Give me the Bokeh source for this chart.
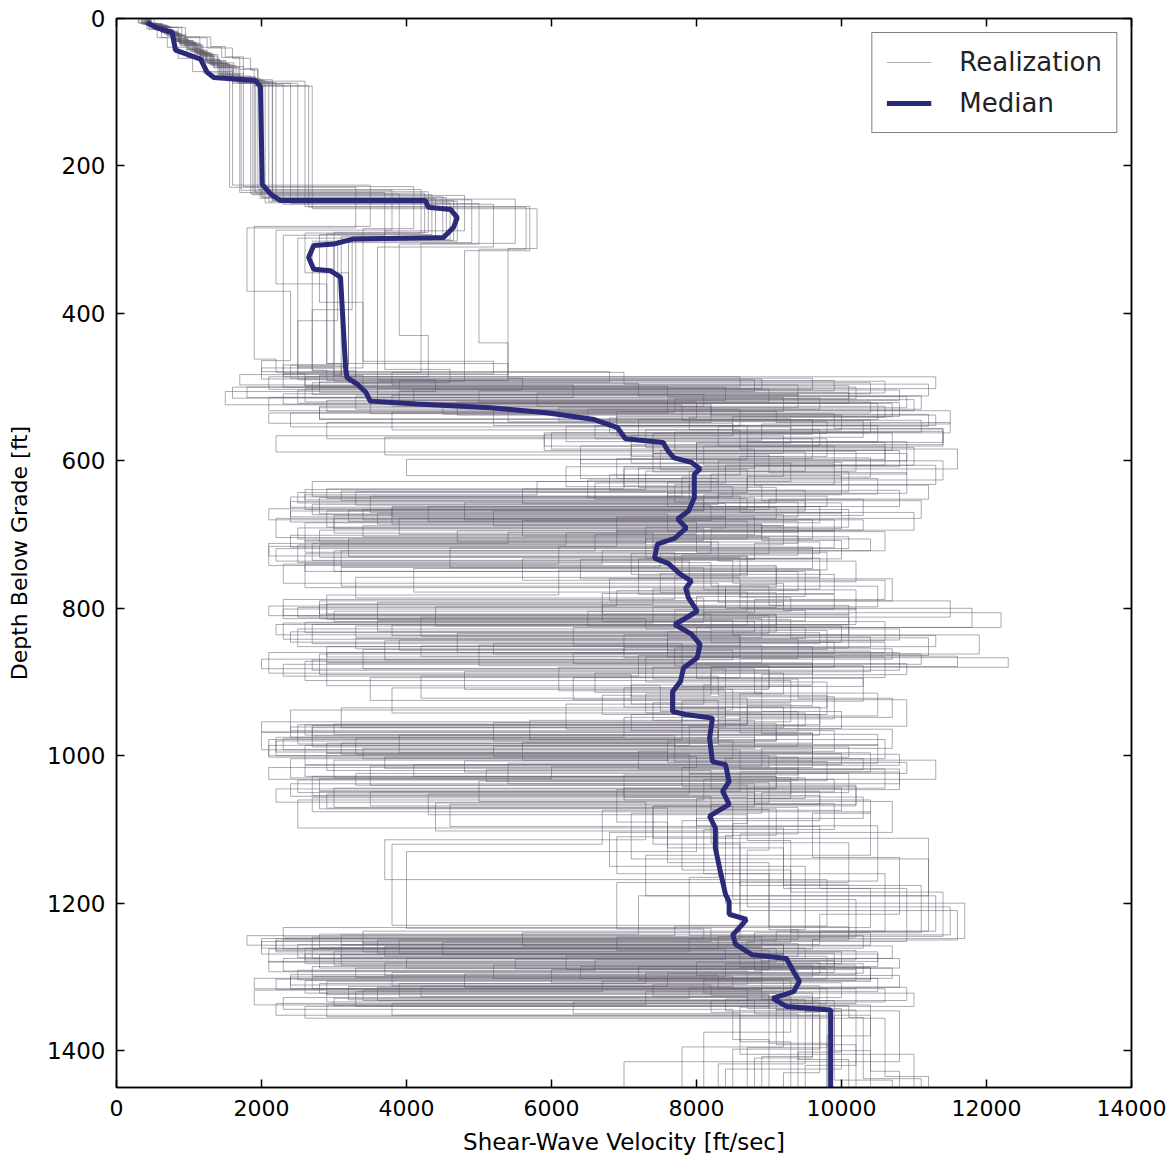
from bokeh.plotting import figure
from bokeh.models import Range1d, LinearAxis, FixedTicker
from bokeh.embed import file_html
from bokeh.resources import INLINE

X_TICKS = [0, 2000, 4000, 6000, 8000, 10000, 12000, 14000]
Y_TICKS = [0, 200, 400, 600, 800, 1000, 1200, 1400]
MAX_DEPTH = 1450

MEDIAN_VS = [423, 538, 768, 814, 1159, 1251, 1342, 1917, 1986, 2010, 2124, 2262, 4262, 4300, 4607, 4700,
             4650, 4510, 3270, 2997, 2720, 2650, 2720, 2950, 3090, 3160, 3180, 3320, 3440, 3500, 4140, 5160,
             5960, 6590, 6910, 7020, 7540, 7610, 7690, 7930, 8050, 7970, 7970, 7890, 7740, 7860, 7700, 7460,
             7420, 7610, 7780, 7930, 7850, 7890, 8010, 7700, 7930, 8050, 8010, 7820, 7780, 7670, 7670, 7850,
             8220, 8180, 8220, 8400, 8450, 8360, 8450, 8180, 8260, 8260, 8320, 8400, 8450, 8450, 8690, 8630,
             8500, 8540, 8770, 9240, 9340, 9420, 9340, 9050, 9240, 9850, 9850]
MEDIAN_DEPTH = [5, 12, 19, 43, 55, 73, 80, 84, 93, 225, 238, 247, 247, 256, 259, 270,
                283, 297, 299, 306, 308, 324, 340, 342, 351, 474, 487, 496, 507, 519, 523, 528,
                535, 544, 555, 570, 575, 587, 596, 602, 611, 618, 650, 668, 679, 691, 705, 713,
                732, 739, 754, 763, 773, 786, 804, 822, 835, 849, 867, 881, 899, 913, 940, 944,
                949, 976, 1008, 1012, 1035, 1048, 1066, 1082, 1098, 1125, 1153, 1188, 1198, 1215, 1222, 1229,
                1243, 1256, 1270, 1275, 1293, 1306, 1320, 1329, 1340, 1345, 1450]

R01_DEPTH = [0, 7, 18, 30, 44, 58, 80, 235, 290, 470, 488, 503, 521, 540, 566, 590, 615, 642, 660, 681, 702, 728, 760, 790, 812, 838, 866, 900, 935, 962, 985, 1010, 1038, 1065, 1100, 1160, 1238, 1255, 1272, 1290, 1305, 1322, 1345, 1400]
R01_VS = [380, 640, 820, 1050, 1240, 1500, 1900, 4300, 3000, 2400, 9600, 4100, 10800, 6900, 9200, 7400, 10100, 3300, 8200, 5600, 9400, 7800, 6800, 11500, 4200, 8600, 7300, 9800, 3100, 8300, 10500, 5400, 8800, 9900, 8100, 10600, 3400, 9400, 6200, 10200, 2600, 9100, 9900, 10400]
R02_DEPTH = [0, 10, 22, 36, 50, 64, 86, 248, 302, 478, 495, 512, 530, 552, 575, 598, 624, 650, 672, 695, 718, 745, 775, 802, 828, 852, 880, 912, 948, 975, 1000, 1025, 1052, 1080, 1115, 1185, 1245, 1262, 1280, 1296, 1314, 1332, 1348, 1410]
R02_VS = [450, 720, 900, 1150, 1320, 1650, 2100, 4700, 2700, 3300, 7200, 11100, 5200, 8700, 10600, 6400, 8300, 2800, 7600, 9900, 4600, 8100, 10200, 7700, 2500, 9600, 6100, 8400, 7000, 2200, 9100, 7900, 4300, 8700, 9300, 11400, 8300, 2100, 9700, 4800, 10900, 8200, 9600, 8800]
R03_DEPTH = [0, 6, 15, 27, 40, 55, 75, 228, 285, 465, 482, 500, 516, 534, 558, 580, 606, 632, 655, 676, 700, 722, 750, 784, 806, 826, 850, 874, 905, 940, 968, 992, 1018, 1046, 1090, 1145, 1232, 1250, 1268, 1284, 1302, 1318, 1338, 1380]
R03_VS = [350, 560, 780, 980, 1150, 1420, 1750, 4100, 3400, 5200, 2300, 10200, 7700, 3800, 9700, 8100, 11300, 7900, 2400, 8800, 6600, 3000, 9500, 8000, 12200, 6300, 8900, 2900, 7500, 9400, 2000, 8600, 10800, 6900, 7600, 9000, 10100, 3600, 9200, 5200, 8900, 1900, 10400, 9800]
R04_DEPTH = [0, 9, 20, 33, 47, 62, 84, 242, 296, 484, 500, 518, 536, 556, 578, 603, 628, 646, 666, 690, 712, 735, 766, 796, 818, 844, 870, 895, 926, 955, 980, 1004, 1030, 1058, 1095, 1170, 1240, 1258, 1275, 1292, 1310, 1326, 1345, 1420]
R04_VS = [420, 680, 860, 1100, 1280, 1560, 2000, 4500, 3100, 2800, 8400, 3500, 9900, 11400, 7100, 9300, 5800, 2600, 10100, 7300, 2700, 8500, 9200, 6700, 10600, 3700, 8000, 10300, 7800, 5200, 8500, 2400, 9500, 8000, 10500, 8600, 5600, 10700, 2300, 8700, 7400, 9600, 10200, 9500]
R05_DEPTH = [0, 12, 25, 38, 52, 68, 90, 252, 310, 490, 506, 524, 545, 562, 584, 610, 636, 657, 680, 706, 730, 756, 788, 810, 834, 860, 884, 918, 944, 972, 996, 1022, 1048, 1072, 1108, 1200, 1248, 1266, 1284, 1300, 1316, 1334, 1350, 1405]
R05_VS = [480, 900, 1300, 1500, 1750, 1950, 2300, 5200, 3600, 4400, 1500, 7800, 10400, 6000, 8800, 7200, 9100, 4800, 9600, 3200, 8700, 7700, 2300, 9000, 4700, 10800, 8200, 6700, 9700, 3900, 10400, 8600, 2800, 9100, 8400, 11700, 7900, 3000, 9600, 2400, 10600, 6300, 8600, 11000]
R06_DEPTH = [0, 8, 17, 29, 43, 60, 78, 238, 298, 474, 492, 508, 526, 548, 570, 594, 619, 640, 664, 686, 708, 733, 762, 794, 815, 840, 864, 892, 922, 958, 984, 1008, 1034, 1062, 1104, 1150, 1236, 1253, 1270, 1287, 1306, 1324, 1342, 1395]
R06_VS = [400, 600, 840, 1000, 1200, 1450, 1850, 3900, 2500, 3000, 10600, 5800, 8200, 2900, 9800, 8600, 6800, 9500, 3800, 8900, 10000, 5600, 7900, 2900, 9300, 11200, 7200, 4200, 8700, 2500, 7700, 9800, 5000, 10700, 6800, 9500, 9300, 4500, 8600, 10400, 2900, 9000, 9200, 7800]
R07_DEPTH = [0, 11, 24, 37, 49, 66, 88, 245, 305, 480, 497, 514, 532, 550, 572, 596, 622, 648, 670, 692, 716, 740, 772, 800, 822, 848, 876, 904, 930, 964, 990, 1014, 1040, 1068, 1112, 1190, 1242, 1260, 1278, 1294, 1312, 1330, 1346, 1415]
R07_VS = [440, 700, 880, 1120, 1350, 1600, 2500, 5500, 4200, 3800, 6300, 2100, 11500, 8900, 7400, 10400, 7800, 3500, 10000, 8200, 6100, 2600, 8400, 10200, 2700, 7800, 9600, 8100, 6200, 10700, 8900, 3500, 10200, 7400, 11200, 7200, 2800, 8900, 9900, 3800, 9700, 8400, 10800, 7000]
R08_DEPTH = [0, 7, 19, 31, 45, 59, 82, 232, 292, 468, 486, 502, 520, 542, 562, 586, 612, 638, 658, 678, 704, 726, 754, 780, 808, 830, 856, 882, 915, 946, 978, 1002, 1026, 1056, 1085, 1130, 1234, 1252, 1269, 1286, 1304, 1320, 1340, 1390]
R08_VS = [370, 620, 800, 1020, 1230, 1480, 1950, 4200, 2900, 3100, 11300, 2600, 8000, 6800, 10700, 7500, 8700, 5600, 8400, 2200, 9000, 7100, 9900, 6700, 8200, 9800, 3400, 8800, 10500, 7800, 2100, 9400, 7000, 10300, 8000, 4000, 8200, 2000, 10500, 7200, 9200, 3300, 9000, 9800]
R09_DEPTH = [0, 10, 21, 34, 48, 63, 84, 250, 300, 486, 503, 520, 538, 558, 582, 606, 630, 652, 674, 698, 720, 746, 778, 804, 824, 846, 872, 898, 928, 952, 982, 1006, 1032, 1060, 1098, 1175, 1246, 1264, 1281, 1298, 1316, 1336, 1352, 1430]
R09_VS = [430, 660, 870, 1080, 1300, 1580, 2050, 4600, 3300, 2100, 9000, 4700, 10000, 7300, 11000, 8400, 6600, 10300, 3000, 7400, 9600, 4100, 8700, 6500, 10000, 8000, 2600, 9300, 7400, 8800, 5600, 11300, 8100, 2500, 9200, 10100, 6900, 9000, 3700, 8300, 10200, 2200, 9700, 9200]
R10_DEPTH = [0, 9, 23, 35, 51, 67, 87, 240, 288, 476, 494, 510, 528, 546, 568, 592, 616, 644, 662, 684, 710, 736, 764, 792, 816, 836, 862, 890, 920, 950, 976, 998, 1024, 1050, 1078, 1140, 1238, 1256, 1274, 1290, 1308, 1328, 1344, 1385]
R10_VS = [410, 700, 930, 1160, 1340, 1680, 2200, 4800, 3700, 4600, 2700, 9400, 6100, 10300, 3700, 9000, 10900, 7600, 9700, 2600, 8300, 10200, 7900, 3600, 8500, 11900, 2800, 7100, 9900, 8300, 3300, 7900, 10100, 8900, 7100, 11200, 9700, 2500, 9000, 6000, 10000, 2300, 8500, 9000]
R11_DEPTH = [0, 8, 16, 28, 42, 57, 76, 236, 294, 482, 498, 516, 535, 554, 576, 600, 626, 650, 668, 688, 714, 738, 770, 798, 820, 842, 868, 894, 924, 960, 986, 1012, 1036, 1064, 1102, 1165, 1244, 1261, 1277, 1295, 1313, 1331, 1347, 1425]
R11_VS = [390, 590, 770, 960, 1180, 1400, 1700, 3700, 2300, 2600, 10100, 7600, 2400, 9300, 8000, 11400, 6500, 8800, 5200, 9200, 2500, 8200, 10500, 7400, 2300, 9400, 8600, 6300, 10900, 7900, 2600, 8400, 9000, 4400, 8300, 7900, 10300, 2600, 8900, 7600, 3200, 9500, 10000, 8400]
R12_DEPTH = [0, 11, 22, 35, 49, 65, 85, 255, 315, 492, 510, 526, 544, 564, 586, 608, 634, 654, 678, 700, 724, 748, 782, 808, 832, 858, 886, 910, 938, 966, 994, 1018, 1044, 1070, 1106, 1210, 1250, 1268, 1286, 1302, 1320, 1338, 1354, 1440]
R12_VS = [460, 740, 960, 1180, 1400, 1750, 2600, 5700, 4800, 3600, 8100, 2800, 9600, 5900, 10800, 7000, 8900, 11100, 3900, 8000, 9800, 6100, 2900, 9100, 7600, 10400, 4800, 8500, 2400, 9900, 7200, 10600, 3000, 9400, 8600, 11600, 3900, 9900, 6400, 10500, 7300, 2900, 9900, 10700]
R13_DEPTH = [0, 6, 14, 26, 39, 54, 72, 226, 282, 462, 480, 496, 512, 530, 553, 574, 600, 628, 648, 670, 694, 716, 742, 772, 798, 824, 854, 878, 908, 942, 970, 996, 1020, 1044, 1074, 1120, 1230, 1248, 1266, 1282, 1300, 1316, 1336, 1375]
R13_VS = [300, 420, 560, 700, 850, 1050, 1600, 3500, 1900, 2200, 7000, 11200, 3300, 8600, 6200, 10900, 8300, 2700, 8600, 11000, 6900, 2100, 9100, 8400, 4400, 10100, 7700, 9000, 3800, 8900, 9600, 2900, 8200, 10000, 6700, 3800, 8600, 2200, 10000, 8400, 2700, 9800, 9300, 8100]
R14_DEPTH = [0, 12, 26, 40, 54, 70, 92, 258, 312, 488, 504, 522, 540, 560, 580, 604, 632, 656, 676, 696, 722, 744, 768, 800, 826, 850, 878, 906, 934, 962, 988, 1016, 1042, 1066, 1096, 1180, 1252, 1270, 1288, 1304, 1322, 1340, 1356, 1435]
R14_VS = [520, 950, 1250, 1600, 1850, 1950, 2700, 5800, 5400, 5600, 2500, 10700, 8500, 11400, 6400, 9900, 7700, 9400, 6900, 10600, 3100, 9100, 8600, 11800, 8000, 5000, 10300, 7700, 9200, 2700, 9600, 7800, 10200, 4600, 9700, 10900, 8700, 2800, 10400, 8100, 11000, 2600, 10600, 11200]
R15_DEPTH = [0, 9, 19, 32, 46, 61, 81, 244, 299, 472, 490, 506, 522, 544, 566, 588, 614, 640, 662, 682, 706, 732, 758, 786, 812, 836, 860, 888, 916, 952, 978, 1004, 1028, 1054, 1088, 1155, 1240, 1257, 1273, 1291, 1309, 1327, 1345, 1398]
R15_VS = [415, 650, 850, 1080, 1260, 1530, 1980, 4400, 3200, 2500, 8800, 3900, 10500, 7200, 2200, 9500, 7900, 10800, 4300, 8700, 7300, 9700, 3300, 8100, 10100, 7000, 2100, 9200, 8600, 5700, 10600, 8400, 2700, 9700, 7800, 9300, 10400, 3100, 8800, 9400, 3900, 9300, 9700, 8500]
R16_DEPTH = [0, 10, 20, 33, 47, 60, 83, 246, 304, 484, 500, 514, 533, 552, 574, 598, 620, 646, 668, 690, 712, 734, 760, 790, 814, 840, 866, 894, 925, 956, 980, 1006, 1030, 1058, 1092, 1195, 1246, 1262, 1280, 1298, 1314, 1332, 1350, 1412]
R16_VS = [440, 690, 890, 1130, 1310, 1620, 2150, 4900, 3000, 3400, 1800, 9200, 6900, 10500, 8700, 4000, 10000, 8100, 2900, 9400, 8800, 6400, 10700, 2800, 8900, 7600, 10600, 3500, 8300, 9100, 7600, 3000, 9300, 8700, 8500, 10200, 2700, 9100, 8000, 10800, 3600, 8800, 9400, 10100]
R17_DEPTH = [0, 8, 18, 31, 45, 60, 82, 239, 293, 385, 474, 489, 502, 517, 532, 547, 563, 590, 618, 641, 654, 668, 683, 698, 714, 731, 756, 781, 801, 814, 828, 843, 857, 870, 884, 910, 936, 961, 975, 990, 1004, 1019, 1035, 1052, 1071, 1125, 1180, 1233, 1246, 1259, 1272, 1286, 1299, 1313, 1327, 1343, 1402]
R17_VS = [360, 610, 830, 1040, 1220, 1470, 1880, 4350, 2800, 3400, 2000, 8900, 3600, 11000, 5400, 9800, 7400, 10900, 8200, 3100, 9500, 2400, 8000, 6200, 2800, 8600, 7200, 9900, 2300, 7300, 10800, 3900, 8500, 2700, 9000, 7700, 8400, 2400, 8800, 3400, 10300, 5100, 9300, 2900, 7600, 9200, 10400, 2300, 8900, 3700, 9800, 2700, 8500, 4200, 8700, 10000, 9400]
R18_DEPTH = [0, 10, 21, 34, 48, 63, 86, 247, 301, 410, 481, 494, 509, 523, 538, 552, 570, 597, 624, 645, 659, 673, 688, 703, 719, 736, 762, 788, 806, 819, 833, 848, 862, 876, 892, 918, 944, 966, 980, 995, 1009, 1024, 1040, 1057, 1076, 1135, 1190, 1238, 1251, 1264, 1277, 1291, 1304, 1318, 1332, 1346, 1418]
R18_VS = [430, 690, 880, 1110, 1330, 1610, 2150, 4650, 3050, 2500, 3200, 10400, 2300, 8200, 11300, 6600, 9600, 6900, 10500, 8300, 2700, 9200, 3400, 10100, 2200, 7900, 10600, 8800, 8100, 2600, 9700, 5200, 11100, 2300, 8300, 9800, 7100, 9100, 2200, 7600, 10900, 3300, 8700, 2700, 10400, 7300, 11300, 9100, 2200, 10200, 6600, 2500, 9300, 3400, 9900, 9500, 8300]
R19_DEPTH = [0, 7, 16, 28, 41, 56, 78, 233, 287, 360, 468, 483, 497, 511, 526, 541, 558, 584, 611, 638, 651, 665, 680, 695, 710, 726, 750, 776, 797, 810, 824, 839, 853, 867, 880, 906, 932, 957, 971, 986, 1000, 1015, 1031, 1048, 1066, 1118, 1172, 1235, 1248, 1261, 1275, 1288, 1302, 1316, 1330, 1344, 1392]
R19_VS = [340, 570, 790, 990, 1160, 1430, 1720, 3800, 2200, 2900, 5400, 1700, 9400, 3800, 10600, 7900, 8600, 11600, 7000, 2900, 8700, 2100, 9900, 4700, 8200, 2600, 9400, 6900, 2100, 9100, 3300, 10400, 7000, 12300, 7800, 9600, 8700, 3000, 10500, 2100, 9000, 6000, 2800, 9700, 8200, 10100, 6900, 8100, 2000, 9500, 4000, 10700, 1900, 8700, 9300, 9100, 10200]
R20_DEPTH = [0, 11, 23, 37, 51, 66, 88, 251, 306, 430, 486, 499, 513, 528, 543, 557, 575, 602, 629, 648, 662, 676, 691, 706, 722, 740, 766, 792, 803, 817, 831, 846, 860, 874, 888, 914, 940, 963, 977, 992, 1007, 1022, 1038, 1055, 1073, 1128, 1205, 1243, 1256, 1269, 1282, 1295, 1309, 1322, 1336, 1352, 1428]
R20_VS = [470, 750, 940, 1190, 1390, 1700, 2400, 5000, 3900, 4300, 2600, 7600, 10900, 2800, 9300, 11400, 8000, 10000, 7600, 9800, 3800, 8400, 2500, 10400, 6700, 2300, 8300, 9200, 9500, 3600, 8200, 10600, 2900, 9600, 6600, 8900, 10000, 8300, 2300, 9600, 4800, 10800, 2400, 8200, 9000, 8700, 11500, 3100, 9200, 2600, 10300, 7300, 2800, 9600, 3800, 10400, 10800]
R21_DEPTH = [0, 9, 20, 32, 46, 61, 83, 243, 297, 395, 477, 491, 505, 520, 535, 549, 566, 594, 621, 643, 657, 671, 686, 701, 717, 733, 759, 785, 804, 818, 832, 846, 861, 875, 890, 916, 942, 959, 973, 988, 1002, 1017, 1033, 1050, 1069, 1120, 1176, 1240, 1253, 1266, 1279, 1293, 1306, 1320, 1334, 1348, 1408]
R21_VS = [410, 660, 860, 1090, 1290, 1550, 2020, 4550, 3250, 2700, 2900, 9900, 5000, 10400, 2100, 8500, 7100, 9200, 8700, 2500, 10000, 3600, 8900, 2400, 9600, 7200, 8600, 9300, 3000, 8800, 2400, 9900, 6300, 10900, 8900, 7300, 9500, 2700, 7700, 10100, 3700, 9400, 2500, 8800, 7400, 8600, 11100, 8800, 3400, 10500, 2100, 8900, 6700, 2900, 9700, 9600, 8900]
R22_DEPTH = [0, 6, 15, 26, 39, 53, 74, 229, 284, 370, 464, 479, 493, 507, 522, 537, 553, 580, 608, 635, 649, 663, 678, 692, 708, 724, 748, 774, 795, 808, 822, 836, 851, 865, 879, 904, 930, 954, 968, 983, 997, 1012, 1028, 1045, 1063, 1114, 1168, 1231, 1244, 1257, 1270, 1284, 1297, 1311, 1325, 1341, 1388]
R22_VS = [310, 450, 620, 800, 980, 1200, 1560, 3300, 1800, 2400, 2000, 6800, 2800, 10100, 4500, 11200, 8300, 9900, 6200, 8500, 2400, 9100, 3000, 8100, 2600, 7700, 9700, 7400, 2800, 10100, 2200, 8600, 4200, 11600, 8200, 7100, 9300, 2000, 8300, 2900, 10000, 4100, 9100, 2200, 7300, 3700, 9800, 7700, 1800, 9200, 3100, 10200, 2400, 8200, 9000, 8600, 9300]
R23_DEPTH = [0, 12, 25, 39, 53, 69, 91, 256, 313, 440, 491, 504, 518, 533, 548, 562, 580, 606, 633, 652, 666, 680, 694, 710, 726, 744, 770, 796, 809, 823, 837, 852, 866, 880, 896, 922, 948, 969, 983, 998, 1013, 1028, 1044, 1060, 1078, 1138, 1215, 1249, 1262, 1275, 1288, 1301, 1315, 1329, 1339, 1355, 1438]
R23_VS = [470, 850, 1150, 1450, 1700, 1900, 2650, 5650, 5000, 5400, 3900, 10800, 2900, 9100, 11500, 5900, 10600, 8800, 11200, 9000, 3400, 10300, 2800, 9700, 7500, 3100, 9000, 10100, 8700, 3800, 11300, 2900, 9900, 7400, 9400, 10700, 8600, 9600, 3100, 10800, 2600, 9100, 7000, 10400, 9600, 10800, 9700, 9600, 2700, 10800, 3300, 9400, 7900, 3000, 10100, 10300, 11100]
R24_DEPTH = [0, 8, 19, 30, 43, 57, 79, 237, 291, 345, 470, 486, 500, 515, 530, 545, 561, 587, 614, 639, 653, 667, 682, 697, 712, 729, 753, 779, 799, 812, 826, 841, 855, 869, 882, 908, 934, 958, 972, 987, 1001, 1016, 1032, 1049, 1068, 1110, 1160, 1236, 1249, 1262, 1276, 1289, 1303, 1317, 1331, 1345, 1396]
R24_VS = [395, 630, 810, 1060, 1250, 1510, 1920, 4250, 2600, 3200, 2300, 8600, 1600, 9700, 6500, 11100, 7700, 10200, 7300, 2600, 8100, 3200, 9400, 5400, 2100, 8700, 7500, 9100, 2500, 7800, 9500, 3300, 10700, 2000, 8400, 7000, 9700, 2600, 9400, 5200, 8000, 2100, 9900, 3500, 8500, 6900, 9000, 9400, 2300, 8400, 5500, 9800, 2200, 8900, 9400, 9800, 8700]

REALIZATIONS = [
    (R01_DEPTH, R01_VS), (R02_DEPTH, R02_VS), (R03_DEPTH, R03_VS), (R04_DEPTH, R04_VS),
    (R05_DEPTH, R05_VS), (R06_DEPTH, R06_VS), (R07_DEPTH, R07_VS), (R08_DEPTH, R08_VS),
    (R09_DEPTH, R09_VS), (R10_DEPTH, R10_VS), (R11_DEPTH, R11_VS), (R12_DEPTH, R12_VS),
    (R13_DEPTH, R13_VS), (R14_DEPTH, R14_VS), (R15_DEPTH, R15_VS), (R16_DEPTH, R16_VS),
    (R17_DEPTH, R17_VS), (R18_DEPTH, R18_VS), (R19_DEPTH, R19_VS), (R20_DEPTH, R20_VS),
    (R21_DEPTH, R21_VS), (R22_DEPTH, R22_VS), (R23_DEPTH, R23_VS), (R24_DEPTH, R24_VS),
]


def step_path(depths, vs):
    xs, ys = [], []
    bottoms = list(depths[1:]) + [MAX_DEPTH]
    for top, bot, v in zip(depths, bottoms, vs):
        xs += [v, v]
        ys += [top, bot]
    return xs, ys


real_xs, real_ys = [], []
for d, v in REALIZATIONS:
    x, y = step_path(d, v)
    real_xs.append(x)
    real_ys.append(y)

FONT = "DejaVu Sans"

p = figure(width=1174, height=1161, x_range=Range1d(0, 14000), y_range=Range1d(MAX_DEPTH, 0),
           output_backend="svg", toolbar_location=None,
           min_border_left=116, min_border_right=43, min_border_top=18, min_border_bottom=74)

p.multi_line(xs=real_xs, ys=real_ys, line_color="#5e5868", line_alpha=0.5, line_width=1,
             legend_label="Realization")
p.line(MEDIAN_VS, MEDIAN_DEPTH, line_color="#2b2a78", line_width=5, legend_label="Median")

p.xaxis.ticker = FixedTicker(ticks=X_TICKS)
p.yaxis.ticker = FixedTicker(ticks=Y_TICKS)
p.xaxis.axis_label = "Shear-Wave Velocity [ft/sec]"
p.yaxis.axis_label = "Depth Below Grade [ft]"

for ax in [p.xaxis[0], p.yaxis[0]]:
    ax.axis_line_width = 1.5
    ax.axis_line_color = "black"
    ax.major_tick_in = 8
    ax.major_tick_out = 0
    ax.major_tick_line_width = 1.5
    ax.minor_tick_in = 0
    ax.minor_tick_out = 0
    ax.major_label_text_font = FONT
    ax.major_label_text_color = "black"
    ax.axis_label_text_font = FONT
    ax.axis_label_text_font_style = "normal"
    ax.axis_label_text_color = "black"

p.xaxis.major_label_text_font_size = "22px"
p.yaxis.major_label_text_font_size = "23px"
p.xaxis.axis_label_text_font_size = "23px"
p.yaxis.axis_label_text_font_size = "22px"
p.xaxis.major_label_standoff = 12
p.xaxis.axis_label_standoff = 10
p.yaxis.major_label_standoff = 11
p.yaxis.axis_label_standoff = 12

right_ax = LinearAxis(ticker=FixedTicker(ticks=Y_TICKS))
top_ax = LinearAxis(ticker=FixedTicker(ticks=X_TICKS))
for ax in [right_ax, top_ax]:
    ax.axis_line_width = 1.5
    ax.major_tick_in = 8
    ax.major_tick_out = 0
    ax.major_tick_line_width = 1.5
    ax.minor_tick_in = 0
    ax.minor_tick_out = 0
    ax.major_label_text_font_size = "1px"
    ax.major_label_text_color = None
    ax.major_label_standoff = 0
p.add_layout(right_ax, "right")
p.add_layout(top_ax, "above")

p.grid.visible = False
p.outline_line_color = "black"
p.outline_line_width = 1.5

p.legend.location = "top_right"
p.legend.border_line_color = "black"
p.legend.border_line_width = 1.5
p.legend.label_text_font = FONT
p.legend.label_text_font_size = "26px"
p.legend.label_text_color = "#222222"
p.legend.glyph_width = 45
p.legend.glyph_height = 30
p.legend.label_height = 30
p.legend.label_standoff = 28
p.legend.spacing = 11
p.legend.padding = 14
p.legend.margin = 14
p.legend.background_fill_alpha = 1.0

open("out.html", "w").write(file_html(p, INLINE))
